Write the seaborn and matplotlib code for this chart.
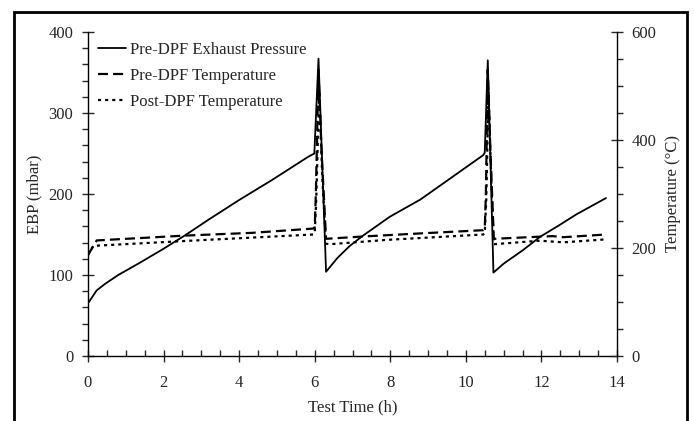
import numpy as np
import pandas as pd
import matplotlib
matplotlib.use("Agg")
import matplotlib.pyplot as plt
import seaborn as sns
from matplotlib.ticker import MultipleLocator
from matplotlib.patches import Rectangle

# ---- data ----
ebp_time = [0, 0.23, 0.45, 0.80, 1.33, 1.95, 2.57, 3.18, 3.98, 4.86, 5.83, 5.99,
            6.10, 6.30, 6.6, 6.93, 7.29, 7.99, 8.79, 9.49, 10.46, 10.50,
            10.58, 10.73, 11.0, 11.52, 11.96, 12.49, 12.93, 13.71]
ebp_mbar = [65, 81, 89, 100, 114, 131, 149, 168, 192, 217, 246, 250,
            367, 104, 121, 136, 149, 172, 193, 216, 248, 251,
            365, 103, 114, 131, 147, 162, 175, 195]

pre_time = [0, 0.23, 2.57, 4.33, 5.96, 6.0, 6.03, 6.10, 6.18, 6.30, 7.2, 8.79,
            10.46, 10.5, 10.53, 10.58, 10.65, 10.74, 11.96, 12.3,
            12.58, 13.71]
pre_temp = [187, 214, 223, 228, 236, 238, 300, 530, 380, 217, 221, 227,
            233, 236, 300, 530, 380, 217, 221, 222,
            220, 225]

post_time = [0, 0.14, 2.57, 5.96, 6.0, 6.04, 6.12, 6.2, 6.30, 6.4, 7.9,
             10.46, 10.5, 10.54, 10.6, 10.67, 10.74, 11.96, 12.58, 13.71]
post_temp = [187, 204, 213, 225, 228, 290, 490, 330, 208, 207, 215,
             225, 228, 290, 490, 330, 207, 213.5, 210.5, 216]

x_ticks = [0, 2, 4, 6, 8, 10, 12, 14]
ebp_ticks = [0, 100, 200, 300, 400]
temp_ticks = [0, 200, 400, 600]

labels = ["Pre-DPF Exhaust Pressure", "Pre-DPF Temperature", "Post-DPF Temperature"]

# ---- style ----
sns.set_style("ticks")
plt.rcParams['font.family'] = ['Liberation Serif', 'DejaVu Serif']
plt.rcParams['font.size'] = 11

fig = plt.figure(figsize=(6.94, 4.21), dpi=100)
ax = fig.add_axes([88/694, 1-356/421, (617-88)/694, (356-32)/421])
ax2 = ax.twinx()

df_ebp = pd.DataFrame({"t": ebp_time, "v": ebp_mbar})
df_pre = pd.DataFrame({"t": pre_time, "v": pre_temp})
df_post = pd.DataFrame({"t": post_time, "v": post_temp})

sns.lineplot(data=df_ebp, x="t", y="v", ax=ax, color="black", lw=1.3,
             label=labels[0], legend=False, sort=False)
sns.lineplot(data=df_pre, x="t", y="v", ax=ax2, color="black", lw=1.6,
             label=labels[1], legend=False, sort=False, dashes=False)
sns.lineplot(data=df_post, x="t", y="v", ax=ax2, color="black", lw=1.6,
             label=labels[2], legend=False, sort=False, dashes=False)
ax2.lines[0].set_dashes([4.5, 2.3])
ax2.lines[1].set_dashes([1.4, 1.8])

ax.set_xlim(0, 14)
ax.set_ylim(0, 400)
ax2.set_ylim(0, 600)
ax.set_xticks(x_ticks)
ax.set_yticks(ebp_ticks)
ax2.set_yticks(temp_ticks)
ax.xaxis.set_minor_locator(MultipleLocator(0.5))
ax.yaxis.set_minor_locator(MultipleLocator(20))
ax2.yaxis.set_minor_locator(MultipleLocator(50))

for a in (ax, ax2):
    a.spines['top'].set_visible(False)
    for s in a.spines.values():
        s.set_linewidth(1.0)
        s.set_color("black")
ax.spines['right'].set_visible(False)
ax2.spines['left'].set_visible(False)
ax2.spines['bottom'].set_visible(False)

ax.tick_params(axis='x', which='major', direction='inout', length=9, width=1, labelsize=12, pad=9.5)
ax.tick_params(axis='x', which='minor', direction='in', length=4, width=1)
ax.tick_params(axis='y', which='major', direction='inout', length=9, width=1, labelsize=12, pad=6)
ax.tick_params(axis='y', which='minor', direction='out', length=4, width=1)
ax2.tick_params(axis='y', which='major', direction='inout', length=9, width=1, labelsize=12, pad=6)
ax2.tick_params(axis='y', which='minor', direction='out', length=4, width=1)

ax.set_xlabel("Test Time (h)", fontsize=12, labelpad=5.5)
ax.set_ylabel("EBP (mbar)", fontsize=12, labelpad=4.5)
ax2.set_ylabel("Temperature (\u00b0C)", fontsize=12, labelpad=6.5)

handles = ax.get_lines()[:1] + ax2.get_lines()[:2]
ax.legend(handles, labels, loc='upper left', frameon=False, fontsize=12,
          handlelength=1.65, handletextpad=0.25, labelspacing=0.6,
          borderaxespad=0.2, bbox_to_anchor=(0.0, 1.0))

# outer frame
fig.patches.append(Rectangle((14/694, -0.05), (687-14)/694, 1.05 - 12/421,
                             transform=fig.transFigure, fill=False,
                             edgecolor="black", lw=2, clip_on=False))

fig.savefig("out.png", dpi=100)
